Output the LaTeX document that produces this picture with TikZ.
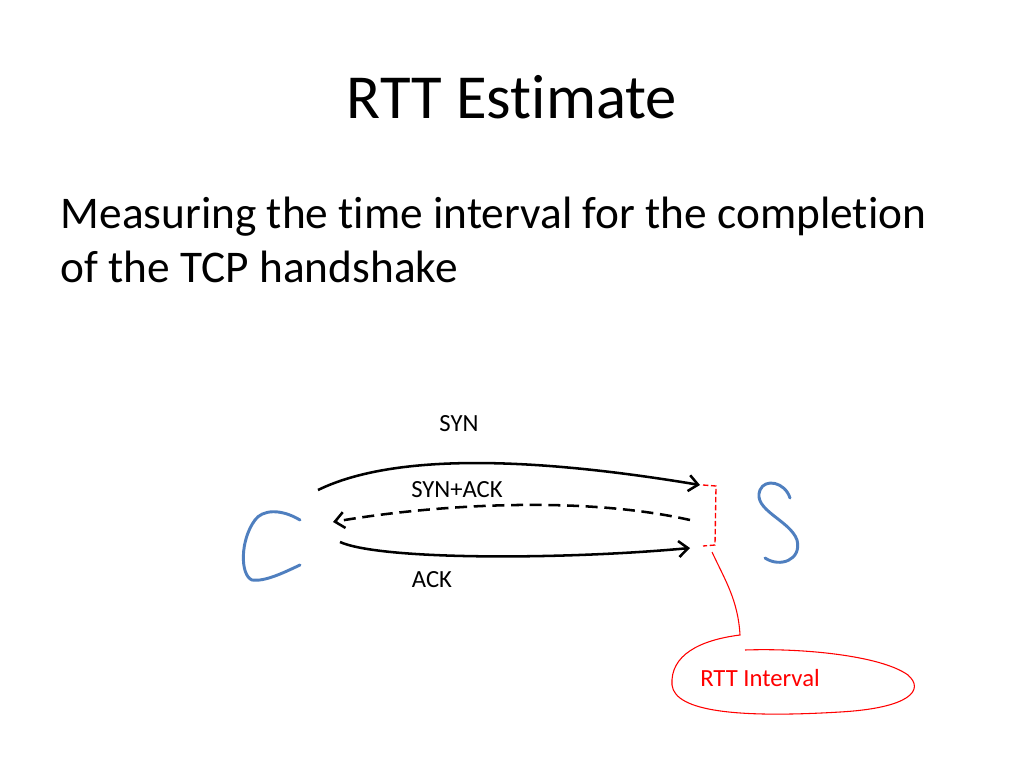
\documentclass[tikz,border=0pt]{standalone}
\usepackage{fontspec}
\setmainfont{Carlito}[RawFeature={-liga}]
\usetikzlibrary{arrows.meta}
\definecolor{handblue}{HTML}{4F7FBF}
\begin{document}
\begin{tikzpicture}[x=0.75pt,y=-0.75pt,
  msg/.style={line width=1.9pt,-{Straight Barb[length=7pt,width=12pt,line width=1.9pt]}},
  lbl/.style={font=\fontsize{18.5}{22}\selectfont},
  hand/.style={line width=2.2pt,color=handblue,line cap=round}]
\useasboundingbox (0,0) rectangle (1024,768);
\fill[white] (0,0) rectangle (1024,768);
\node[font=\fontsize{47}{52}\selectfont] (title) at (512,97) {RTT Estimate};
\node[anchor=west,align=left,font=\fontsize{34}{41}\selectfont] (body) at (56,240) {Measuring the time interval for the completion\\of the TCP handshake};
\coordinate (c1) at (318,490); \coordinate (s1) at (700,485);
\coordinate (s2) at (690,520); \coordinate (c2) at (333,522);
\coordinate (c3) at (340,542); \coordinate (s3) at (690,548);
\draw[msg] (c1) .. controls (400,450) and (550,460) .. (s1);
\draw[msg,dashed,dash pattern=on 9pt off 5pt] (s2) .. controls (580,495) and (430,505) .. (c2);
\draw[msg] (c3) .. controls (380,560) and (560,560) .. (s3);
\node[lbl] (syn) at (459,424) {SYN};
\node[lbl] (synack) at (457,490) {SYN+ACK};
\node[lbl] (ack) at (432,580) {ACK};
\draw[red,line width=1pt,dashed,dash pattern=on 4pt off 2pt] (703,485) -- (716,486) -- (715,545) -- (703,546);
\node[lbl,text=red] (rtt) at (760,678) {RTT Interval};
\draw[red,line width=0.8pt] (712,552) .. controls (725,580) and (738,600) .. (740,635)
  .. controls (700,640) and (670,655) .. (672,685)
  .. controls (675,712) and (740,718) .. (840,712)
  .. controls (910,708) and (925,690) .. (908,675)
  .. controls (880,655) and (800,648) .. (745,650);
\draw[hand] (300,520) .. controls (280,508) and (262,510) .. (255,520)
  .. controls (240,540) and (240,575) .. (252,580) .. controls (265,582) and (285,572) .. (300,565);
\draw[hand] (790,498) .. controls (785,482) and (765,478) .. (760,490)
  .. controls (752,510) and (790,520) .. (797,540) .. controls (802,560) and (780,568) .. (765,558);
\end{tikzpicture}
\end{document}
